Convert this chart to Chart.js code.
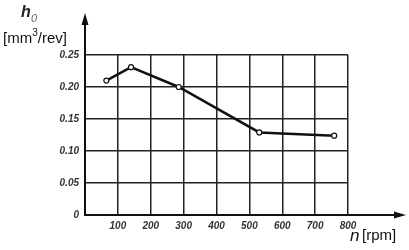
<!DOCTYPE html>
<html>
<head>
<meta charset="utf-8">
<script src="https://cdn.jsdelivr.net/npm/chart.js@4"></script>
<style>
  html, body { margin: 0; padding: 0; background: #fff; }
  #wrap { width: 409px; height: 250px; position: relative; }
</style>
</head>
<body>
<div id="wrap"><canvas id="myChart"></canvas></div>
<script>
// data
const rpm = [65, 140, 285, 530, 758];
const h0 = [0.21, 0.231, 0.20, 0.129, 0.124];
const xTicks = [100, 200, 300, 400, 500, 600, 700, 800];
const yTicks = [0, 0.05, 0.10, 0.15, 0.20, 0.25];

const tickFont = { family: 'Liberation Sans, Arial', size: 10, weight: 'bold', style: 'italic' };

/* axis arrows + axis titles */
const axisDeco = {
  id: 'axisDeco',
  afterDraw(chart) {
    const c = chart.ctx;
    const x0 = chart.scales.x.getPixelForValue(0);
    const y0 = chart.scales.y.getPixelForValue(0);
    c.save();
    c.strokeStyle = '#111';
    c.fillStyle = '#111';
    c.lineWidth = 2;
    // y axis up to arrow
    c.beginPath();
    c.moveTo(x0, y0);
    c.lineTo(x0, 20);
    c.stroke();
    c.beginPath();
    c.moveTo(x0, 13);
    c.lineTo(x0 - 3.5, 25);
    c.lineTo(x0 + 3.5, 25);
    c.closePath();
    c.fill();
    // x axis to arrow
    c.beginPath();
    c.moveTo(x0, y0);
    c.lineTo(398, y0);
    c.stroke();
    c.beginPath();
    c.moveTo(406, y0);
    c.lineTo(394, y0 - 3.5);
    c.lineTo(394, y0 + 3.5);
    c.closePath();
    c.fill();

    // titles
    c.textBaseline = 'alphabetic';
    c.textAlign = 'left';
    c.fillStyle = '#222';
    c.font = 'italic bold 16px Liberation Sans, Arial';
    c.fillText('h', 21, 17);
    c.fillStyle = '#666';
    c.font = 'italic 11px Liberation Sans, Arial';
    c.fillText('0', 31, 22);
    c.fillStyle = '#111';
    c.font = '15px Liberation Sans, Arial';
    c.fillText('[mm', 3, 43);
    let w = c.measureText('[mm').width;
    c.font = '10px Liberation Sans, Arial';
    c.fillText('3', 3 + w, 36);
    let w2 = c.measureText('3').width;
    c.font = '15px Liberation Sans, Arial';
    c.fillText('/rev]', 3 + w + w2, 43);

    c.font = 'italic 17px Liberation Sans, Arial';
    c.fillText('n', 350, 241);
    c.font = '15px Liberation Sans, Arial';
    c.fillText('[rpm]', 362, 240);
    c.restore();
  }
};

const ctx = document.getElementById('myChart');

const myChart = new Chart(ctx, {
  type: 'line',
  data: {
    datasets: [{
      data: rpm.map((v, i) => ({ x: v, y: h0[i] })),
      borderColor: '#111',
      borderWidth: 2.5,
      backgroundColor: '#fff',
      pointBackgroundColor: '#fff',
      pointBorderColor: '#111',
      pointBorderWidth: 1.2,
      pointRadius: 2.5,
      tension: 0
    }]
  },
  options: {
    responsive: true,
    maintainAspectRatio: false,
    animation: false,
    layout: { padding: { top: 55, right: 61, left: 0, bottom: 0 } },
    plugins: { legend: { display: false }, tooltip: { enabled: false } },
    scales: {
      x: {
        type: 'linear',
        min: 0,
        max: 800,
        afterFit(scale) { scale.height = 35; },
        afterBuildTicks(scale) { scale.ticks = xTicks.map(v => ({ value: v })); },
        border: { display: true, color: '#111', width: 2 },
        grid: { color: '#222', lineWidth: 1.5, drawTicks: false },
        ticks: {
          color: '#333',
          font: tickFont,
          padding: 5,
          maxRotation: 0,
          callback: v => v
        }
      },
      y: {
        min: 0,
        max: 0.25,
        afterFit(scale) { scale.width = 85; },
        afterBuildTicks(scale) { scale.ticks = yTicks.map(v => ({ value: v })); },
        border: { display: true, color: '#111', width: 2 },
        grid: { color: '#222', lineWidth: 1.5, drawTicks: false },
        ticks: {
          color: '#333',
          font: tickFont,
          padding: 6,
          callback: v => v === 0 ? '0' : v.toFixed(2)
        }
      }
    }
  },
  plugins: [axisDeco]
});
</script>
</body>
</html>
